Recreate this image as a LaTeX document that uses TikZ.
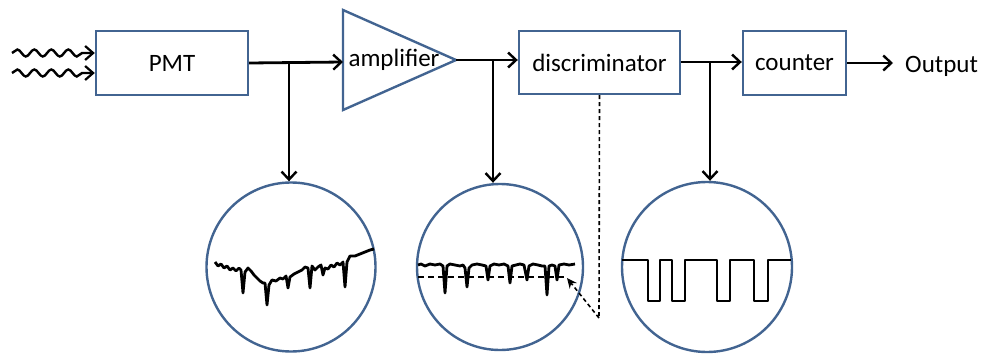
\documentclass[tikz,border=0pt]{standalone}
\usepackage{fontspec}
\setmainfont{Carlito}
\usetikzlibrary{arrows.meta,decorations.pathmorphing}
\definecolor{boxblue}{RGB}{66,100,145}
\tikzset{
  blockbox/.style={draw=boxblue,line width=2.4pt,fill=white,inner sep=0pt,font=\fontsize{25}{30}\selectfont},
  scope circle/.style={draw=boxblue,line width=2.4pt,circle,minimum size=168pt,inner sep=0pt},
  sigline/.style={black,line width=2.8pt,line join=round},
  conn/.style={black,line width=2.8pt,-{Straight Barb[length=8pt,width=15pt,line width=2.4pt]}},
  wave/.style={black,line width=2.4pt,decorate,decoration={snake,amplitude=3.5pt,segment length=17pt,post length=8pt},-{Straight Barb[length=8pt,width=14pt,line width=2.2pt]}},
  dashconn/.style={black,line width=1.6pt,dash pattern=on 4pt off 3pt}
}
\begin{document}
\begin{tikzpicture}[x=1pt,y=-1pt]
\useasboundingbox (0,0) rectangle (984,353);
% blocks
\node[blockbox,minimum width=152pt,minimum height=64pt] (pmt) at (172,63) {PMT};
\draw[boxblue,line width=2.4pt,line join=miter,fill=white] (343,10) -- (456,60) -- (343,110) -- cycle;
\coordinate (ampin) at (343,62);
\coordinate (ampout) at (456,60);
\node[font=\fontsize{25}{30}\selectfont,inner sep=0pt] (amp) at (394,60) {amplifier};
\node[blockbox,minimum width=161pt,minimum height=63pt] (disc) at (599.5,62.5) {discriminator};
\node[blockbox,minimum width=103pt,minimum height=64pt] (cnt) at (794.5,63) {counter};
\node[font=\fontsize{25}{30}\selectfont,inner sep=0pt,anchor=west] (out) at (905,66) {Output};
\coordinate (outend) at (893,63);
% circles
\node[scope circle,minimum size=169pt] (c1) at (291,267) {};
\node[scope circle,minimum size=166pt] (c2) at (500,267) {};
\node[scope circle,minimum size=170pt] (c3) at (707,267) {};
% incoming light
\coordinate (w1) at (12,53);
\coordinate (w2) at (12,73);
\draw[wave] (w1) -- (pmt.west |- w1);
\draw[wave] (w2) -- (pmt.west |- w2);
% main connectors
\coordinate (b1) at (289,63);
\coordinate (b2) at (493,61);
\coordinate (b3) at (710,62);
\draw[conn] (pmt.east) -- (ampin);
\draw[conn] (ampout) -- (disc.west |- ampout);
\draw[conn] (disc.east |- b3) -- (cnt.west |- b3);
\draw[conn] (cnt.east) -- (outend);
\draw[conn] (b1) -- (b1 |- c1.north);
\draw[conn] (b2) -- (b2 |- c2.north);
\draw[conn] (b3) -- (b3 |- c3.north);
% threshold dashed feedback
\coordinate (dturn) at (599,318);
\coordinate (thr) at (567,278);
\draw[dashconn] (disc.south) -- (dturn);
\draw[dashconn,-{Stealth[length=10pt,width=9pt]}] (dturn) -- (thr);
% signal 1
\draw[sigline] (215,262) -- (218,266) -- (221,264) -- (224,268) -- (227,266) -- (230,270) -- (233,268) -- (236,271) -- (239,268) -- (241,270) -- (243,293) -- (245,272) -- (248,268) -- (251,271) -- (254,275) -- (257,278) -- (260,281) -- (263,283) -- (265,283) -- (267,305) -- (269,285) -- (272,280) -- (276,281) -- (280,278) -- (283,279) -- (286,276) -- (288,288) -- (290,277) -- (294,274) -- (298,272) -- (302,270) -- (305,267) -- (308,268) -- (310,288) -- (312,266) -- (315,270) -- (318,267) -- (321,265) -- (323,275) -- (325,268) -- (328,269) -- (331,265) -- (334,267) -- (337,263) -- (340,265) -- (343,262) -- (345,287) -- (347,262) -- (350,256) -- (355,256) -- (360,254) -- (365,252) -- (370,250) -- (374,249);
% signal 2
\draw[sigline] (418,265) -- (421,264) -- (425,266) -- (430,264) -- (435,265) -- (440,264) -- (443,266) -- (445,293) -- (447,266) -- (450,264) -- (455,265) -- (460,266) -- (463,265) -- (465,268) -- (467,287) -- (469,268) -- (472,265) -- (477,264) -- (482,265) -- (486,266) -- (488,280) -- (490,266) -- (494,264) -- (499,265) -- (504,264) -- (508,266) -- (510,283) -- (512,266) -- (516,265) -- (520,264) -- (524,265) -- (527,280) -- (529,266) -- (533,264) -- (538,265) -- (542,266) -- (545,266) -- (547,295) -- (549,266) -- (552,265) -- (555,266) -- (557,280) -- (559,265) -- (564,264) -- (569,265) -- (575,264);
\draw[dashconn,line width=2pt,dash pattern=on 6pt off 4pt] (418,277) -- (565,277);
% signal 3
\draw[sigline,line width=2.4pt] (622,260) -- (648,260) -- (648,301) -- (660,301) -- (660,260) -- (672,260) -- (672,301) -- (685,301) -- (685,260) -- (717,260) -- (717,301) -- (730,301) -- (730,260) -- (754,260) -- (754,301) -- (768,301) -- (768,260) -- (791,260);
\end{tikzpicture}
\end{document}
